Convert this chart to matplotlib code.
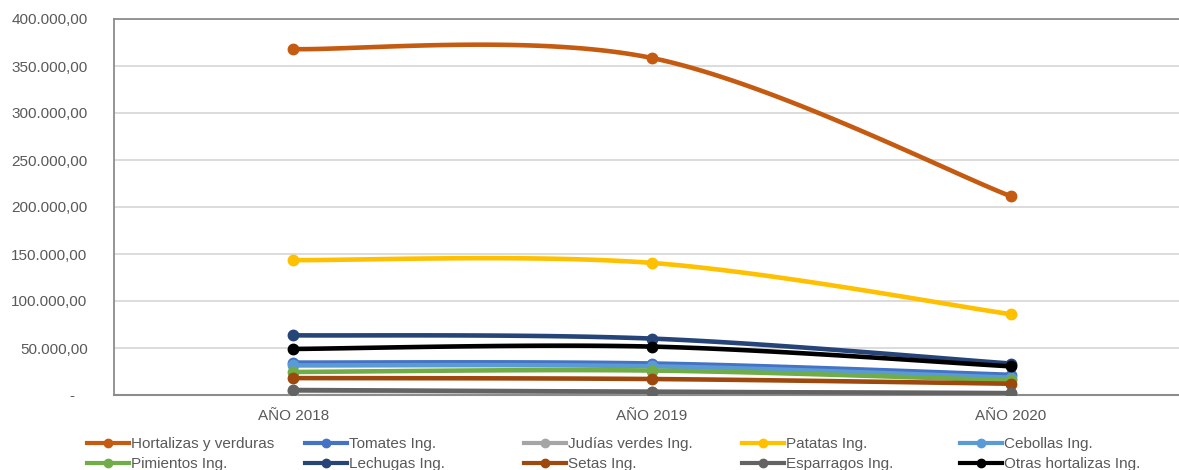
import matplotlib
matplotlib.use("Agg")
import matplotlib.pyplot as plt
import numpy as np
from matplotlib.lines import Line2D
from matplotlib.ticker import FuncFormatter, MultipleLocator

plt.rcParams["font.family"] = ["Liberation Sans", "DejaVu Sans"]

years = ["AÑO 2018", "AÑO 2019", "AÑO 2020"]

series_names = [
    "Hortalizas y verduras", "Tomates Ing.", "Judías verdes Ing.", "Patatas Ing.",
    "Cebollas Ing.", "Pimientos Ing.", "Lechugas Ing.", "Setas Ing.",
    "Esparragos Ing.", "Otras hortalizas Ing.",
]

hortalizas = [368000, 358500, 211500]
tomates = [34500, 33500, 21500]
judias = [4500, 3200, 1800]
patatas = [143500, 140500, 86000]
cebollas = [31500, 30500, 18500]
pimientos = [24500, 26000, 15500]
lechugas = [63500, 60000, 33500]
setas = [18000, 17000, 12000]
esparragos = [5300, 3500, 2000]
otras = [49000, 51500, 30500]

series_values = [hortalizas, tomates, judias, patatas, cebollas,
                 pimientos, lechugas, setas, esparragos, otras]

colors = ["#C55A11", "#4472C4", "#A5A5A5", "#FFC000", "#5B9BD5",
          "#70AD47", "#264478", "#9E480E", "#636363", "#000000"]

TEXT = "#595959"


def smooth(x, y, n=60):
    """Bezier curve through the points, like Excel's smoothed line."""
    pts = np.column_stack([x, y]).astype(float)
    out = []
    for i in range(len(pts) - 1):
        p0, p1 = pts[i], pts[i + 1]
        pm = pts[i - 1] if i > 0 else p0
        pp = pts[i + 2] if i + 2 < len(pts) else p1
        c1 = p0 + (p1 - pm) / 6
        c2 = p1 - (pp - p0) / 6
        t = np.linspace(0, 1, n)[:, None]
        seg = ((1 - t) ** 3 * p0 + 3 * (1 - t) ** 2 * t * c1
               + 3 * (1 - t) * t ** 2 * c2 + t ** 3 * p1)
        out.append(seg if i == 0 else seg[1:])
    curve = np.vstack(out)
    return curve[:, 0], curve[:, 1]


def money(v, pos):
    if abs(v) < 1e-9:
        return "-   "
    s = f"{v:,.2f}"
    return s.replace(",", "X").replace(".", ",").replace("X", ".")


fig = plt.figure(figsize=(11.79, 4.70), dpi=100)
ax = fig.add_axes([114 / 1179, 75 / 470, 1076 / 1179, 376 / 470])

xs = np.arange(len(years))
for name, vals, col in zip(series_names, series_values, colors):
    sx, sy = smooth(xs, vals)
    ax.plot(sx, sy, color=col, lw=3.3, solid_capstyle="round", zorder=3)
    ax.plot(xs, vals, "o", color=col, ms=7.5, zorder=3)

ax.set_xlim(-0.5, 2.5)
ax.set_ylim(0, 400000)
ax.yaxis.set_major_locator(MultipleLocator(50000))
ax.yaxis.set_major_formatter(FuncFormatter(money))
ax.set_xticks(xs)
ax.set_xticklabels(years)
ax.tick_params(axis="both", length=0, labelsize=11, labelcolor=TEXT)
ax.tick_params(axis="y", pad=19)
ax.tick_params(axis="x", pad=10)
ax.grid(axis="y", color="#D9D9D9", lw=1.3, zorder=0)
ax.set_axisbelow(True)
ax.spines["right"].set_visible(False)
for side in ["left", "top"]:
    ax.spines[side].set_color("#8C8C8C")
    ax.spines[side].set_linewidth(1.3)
ax.spines["bottom"].set_color("#8C8C8C")
ax.spines["bottom"].set_linewidth(1.5)

# legend: 5 columns, 2 rows, evenly spaced
handles = [Line2D([], [], color=c, lw=3, marker="o", ms=6) for c in colors]
col_x = [87, 305, 524, 742, 960]
for j, x0 in enumerate(col_x):
    idx = [j, j + 5]
    leg = fig.legend([handles[i] for i in idx], [series_names[i] for i in idx],
                     loc="upper left", bbox_to_anchor=(x0 / 1179, 0.0695),
                     frameon=False, borderpad=0, borderaxespad=0,
                     handlelength=2.75, handletextpad=0.1, labelspacing=0.4,
                     fontsize=11, labelcolor=TEXT)

fig.savefig("out.png", dpi=100)
